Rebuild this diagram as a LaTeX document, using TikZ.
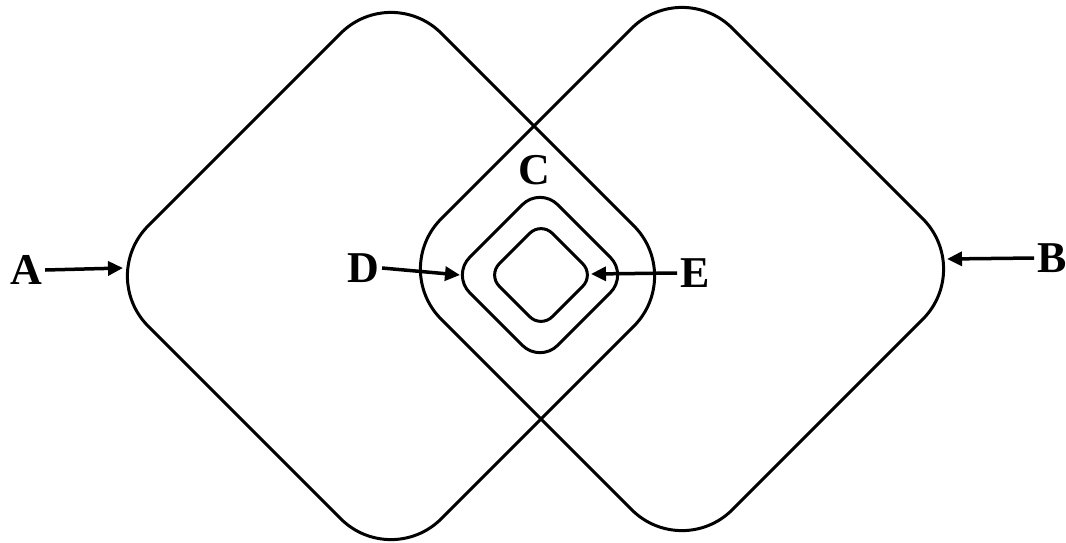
\documentclass[tikz,border=0pt]{standalone}
\usepackage{fontspec}
\setmainfont{Liberation Serif}
\usetikzlibrary{arrows.meta}
\tikzset{
  shapeline/.style={draw=black, line width=3pt},
  lbl/.style={inner sep=0pt, font=\fontsize{44}{48}\selectfont\bfseries},
  arr/.style={line width=3.5pt, -{Triangle[length=15pt,width=14pt]}}
}
\begin{document}
\begin{tikzpicture}[x=1pt,y=-1pt]
\useasboundingbox (0,0) rectangle (1066,542);
% left big diamond
\draw[shapeline, rounded corners=71pt] (244.5,129.5) -- (391,-17) -- (684,276) -- (391,569) -- (98,276) -- cycle;
% right big diamond
\draw[shapeline, rounded corners=71pt] (536.5,123.5) -- (682,-22) -- (973,269) -- (682,560) -- (391,269) -- cycle;
% middle diamond
\draw[shapeline, rounded corners=25pt] (496,231) -- (540,187) -- (628,275) -- (540,363) -- (452,275) -- cycle;
% inner diamond
\draw[shapeline, rounded corners=16pt] (514.5,248.5) -- (541,222) -- (594,275) -- (541,328) -- (488,275) -- cycle;
% labels
\node[lbl] (A) at (26,270) {A};
\node[lbl] (B) at (1052,258) {B};
\node[lbl] (C) at (534,170) {C};
\node[lbl] (D) at (363,268) {D};
\node[lbl] (E) at (695,273) {E};
% arrow targets
\coordinate (tA) at (123,268);
\coordinate (tB) at (947,259);
\coordinate (tD) at (460,275);
\coordinate (tE) at (591,274);
\draw[arr] ([xshift=3pt]A.east) -- (tA);
\draw[arr] ([xshift=-3pt]B.west) -- (tB);
\draw[arr] ([xshift=3pt]D.east) -- (tD);
\draw[arr] ([xshift=-3pt]E.west) -- (tE);
\end{tikzpicture}
\end{document}
